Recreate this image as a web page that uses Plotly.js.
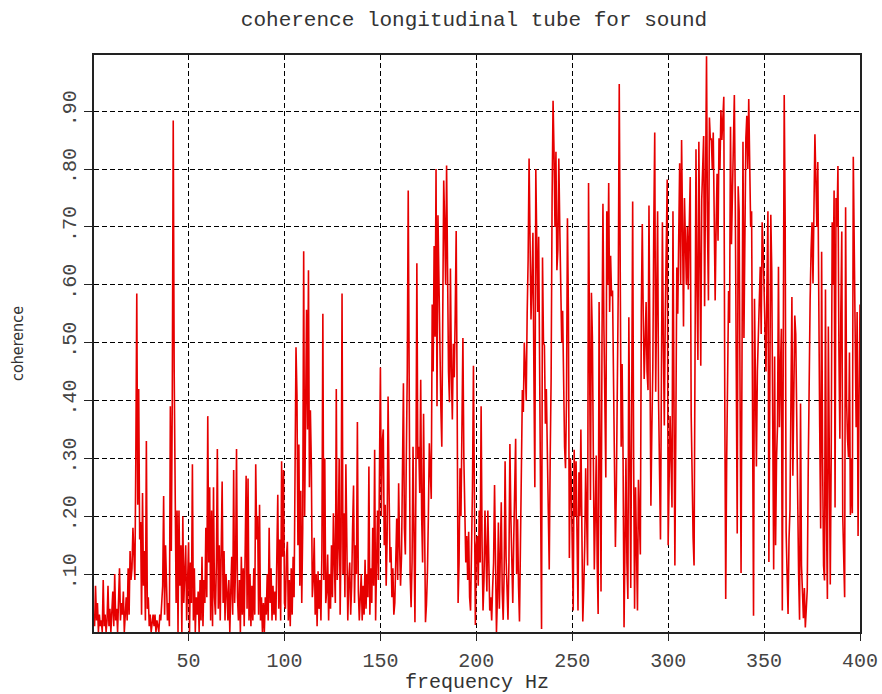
<!DOCTYPE html>
<html>
<head>
<meta charset="utf-8">
<script src="https://cdn.plot.ly/plotly-3.0.1.min.js"></script>
<style>
html,body{margin:0;padding:0;background:#fff;}
#chart{width:882px;height:694px;}
</style>
</head>
<body>
<div id="chart"></div>
<script>
// Frequency sampling of the coherence estimate (Hz)
const FREQ_START = 0.5;
const FREQ_STEP = 0.5;

// Coherence values, one row per 10 Hz (20 samples per row)
const coherence = [
  .03,.01,.08,.02,.05,.00,.03,.01,.02,.00,.09,.01,.03,.00,.02,.08,.01,.04,.00,.03,
  .07,.01,.10,.02,.04,.00,.06,.11,.02,.05,.03,.07,.00,.04,.06,.02,.11,.03,.14,.09,
  .11,.18,.14,.09,.30,.585,.22,.42,.16,.19,.03,.24,.08,.14,.02,.33,.04,.06,.01,.03,
  .00,.02,.03,.01,.03,.00,.02,.01,.00,.03,.02,.05,.08,.235,.03,.15,.10,.02,.05,.01,
  .39,.14,.40,.884,.45,.28,.05,.21,.00,.21,.08,.15,.00,.20,.05,.10,.15,.02,.12,.155,
  .00,.12,.05,.29,.02,.11,.00,.06,.03,.07,.00,.09,.02,.13,.01,.09,.05,.18,.06,.373,
  .12,.25,.02,.21,.01,.25,.06,.03,.12,.316,.04,.15,.02,.11,.26,.05,.14,.02,.10,.07,
  .02,.09,.00,.07,.13,.03,.28,.05,.11,.316,.06,.02,.09,.00,.13,.03,.11,.01,.13,.27,
  .04,.265,.02,.10,.01,.08,.02,.11,.03,.29,.16,.20,.03,.22,.02,.06,.00,.05,.00,.06,
  .03,.10,.02,.18,.05,.11,.02,.08,.03,.07,.02,.19,.237,.04,.16,.02,.295,.13,.28,.05,
  .04,.13,.156,.02,.09,.01,.11,.03,.13,.06,.28,.492,.41,.15,.324,.08,.244,.05,.18,.658,
  .20,.437,.557,.35,.625,.25,.383,.29,.06,.09,.163,.03,.10,.01,.105,.04,.09,.02,.14,.55,
  .09,.30,.05,.07,.134,.02,.10,.04,.15,.06,.205,.12,.05,.42,.09,.15,.30,.03,.16,.585,
  .10,.205,.06,.29,.14,.02,.09,.12,.03,.08,.18,.253,.05,.15,.10,.363,.07,.02,.06,.10,
  .02,.08,.03,.125,.04,.10,.06,.286,.03,.11,.05,.18,.08,.315,.02,.14,.21,.09,.30,.457,
  .20,.33,.35,.15,.22,.08,.16,.407,.25,.12,.147,.06,.11,.03,.05,.12,.196,.09,.257,.15,
  .08,.13,.25,.43,.18,.134,.30,.45,.763,.22,.10,.043,.12,.32,.08,.017,.25,.637,.30,.32,
  .24,.436,.20,.12,.377,.15,.017,.047,.10,.20,.326,.28,.23,.566,.45,.667,.51,.80,.39,.72,
  .60,.45,.39,.32,.54,.78,.705,.60,.806,.556,.45,.397,.628,.45,.367,.498,.44,.55,.693,.40,
  .05,.12,.283,.20,.40,.508,.30,.218,.12,.166,.09,.173,.06,.037,.128,.25,.46,.10,.012,.15,
  .166,.08,.21,.12,.39,.15,.037,.09,.21,.14,.07,.21,.11,.037,.06,.02,.076,.12,.254,.09,
  .00,.06,.189,.04,.12,.224,.07,.021,.10,.295,.13,.06,.021,.12,.325,.20,.09,.05,.16,.25,
  .334,.10,.195,.08,.018,.15,.334,.418,.38,.50,.456,.40,.55,.643,.818,.65,.54,.60,.69,.45,
  .25,.80,.60,.553,.683,.50,.20,.005,.647,.50,.495,.36,.42,.32,.25,.108,.30,.44,.75,.918,
  .83,.70,.83,.625,.66,.818,.70,.625,.50,.555,.40,.32,.283,.40,.715,.55,.128,.30,.257,.10,
  .037,.315,.20,.295,.10,.037,.276,.20,.35,.10,.018,.076,.15,.283,.20,.115,.776,.40,.228,.586,
  .51,.30,.108,.20,.305,.12,.031,.57,.25,.07,.50,.74,.528,.40,.267,.727,.60,.776,.553,.65,
  .58,.59,.437,.30,.147,.25,.38,.60,.947,.50,.32,.463,.30,.008,.15,.30,.12,.057,.544,.30,
  .076,.40,.744,.30,.04,.25,.15,.037,.263,.20,.134,.553,.705,.55,.437,.50,.57,.45,.418,.737,
  .40,.218,.35,.457,.70,.863,.415,.55,.727,.40,.208,.16,.45,.708,.50,.357,.55,.653,.782,.15,
  .25,.373,.30,.215,.727,.40,.115,.35,.63,.55,.727,.81,.60,.85,.70,.528,.75,.65,.60,.70,
  .592,.70,.786,.376,.25,.163,.115,.40,.834,.60,.47,.847,.60,.46,.747,.80,.857,.563,.75,.995,
  .70,.573,.889,.85,.853,.80,.863,.718,.573,.70,.792,.676,.853,.80,.902,.85,.879,.925,.41,.057,
  .295,.45,.589,.534,.873,.67,.75,.857,.928,.737,.45,.17,.77,.727,.40,.102,.476,.847,.508,.70,
  .853,.892,.80,.921,.78,.70,.727,.30,.028,.576,.40,.286,.45,.524,.58,.631,.515,.708,.663,.60,
  .505,.45,.60,.727,.121,.50,.721,.624,.30,.108,.476,.15,.30,.357,.631,.354,.45,.524,.037,.50,
  .928,.708,.173,.10,.031,.16,.212,.40,.579,.27,.40,.547,.515,.35,.276,.10,.021,.395,.115,.05,
  .024,.076,.008,.04,.073,.276,.45,.573,.66,.708,.602,.70,.86,.78,.70,.812,.50,.354,.179,.657,
  .30,.115,.089,.592,.20,.057,.528,.20,.082,.308,.708,.60,.763,.215,.75,.70,.805,.489,.334,.55,
  .692,.202,.10,.06,.734,.40,.334,.302,.483,.202,.30,.205,.821,.618,.40,.354,.553,.166,.40,.566
];

const frequency = coherence.map((_, i) => FREQ_START + i * FREQ_STEP);

// Axis ticks
const xTickVals = [50, 100, 150, 200, 250, 300, 350, 400];
const xTickText = ["50", "100", "150", "200", "250", "300", "350", "400"];
const yTickVals = [0.1, 0.2, 0.3, 0.4, 0.5, 0.6, 0.7, 0.8, 0.9];
const yTickText = [".10", ".20", ".30", ".40", ".50", ".60", ".70", ".80", ".90"];

const MONO = "'Liberation Mono', 'Courier New', 'DejaVu Sans Mono', monospace";
const NARROW = "'Liberation Sans Narrow', 'DejaVu Sans Condensed', 'Arial Narrow', 'Liberation Sans', sans-serif";

const trace = {
  type: "scatter",
  mode: "lines",
  x: frequency,
  y: coherence,
  line: { color: "rgb(230,0,0)", width: 1.6 },
  hoverinfo: "x+y"
};

const axisCommon = {
  showline: true,
  linecolor: "#222",
  linewidth: 2,
  mirror: true,
  ticks: "outside",
  tickcolor: "#222",
  tickwidth: 1,
  showgrid: true,
  gridcolor: "#000",
  gridwidth: 1,
  griddash: "5px,3px",
  zeroline: false,
  tickmode: "array",
  tickfont: { family: MONO, size: 20, color: "#444" }
};

const layout = {
  width: 882,
  height: 694,
  margin: { l: 94, r: 22, t: 55, b: 62, pad: 0 },
  paper_bgcolor: "#fff",
  plot_bgcolor: "#fff",
  showlegend: false,
  title: {
    text: "coherence longitudinal tube for sound",
    font: { family: MONO, size: 21, color: "#333" },
    xref: "container", x: 474 / 882, xanchor: "center",
    yref: "container", y: 1 - 19 / 694, yanchor: "middle"
  },
  xaxis: Object.assign({}, axisCommon, {
    range: [0.7, 400],
    tickvals: xTickVals,
    ticktext: xTickText,
    ticklen: 7,
    ticklabelstandoff: 2,
    title: { text: "frequency Hz", font: { family: MONO, size: 20, color: "#333" }, standoff: 2 }
  }),
  yaxis: Object.assign({}, axisCommon, {
    range: [0, 0.997],
    tickvals: yTickVals,
    ticktext: yTickText,
    tickangle: -90,
    ticklen: 8,
    title: { text: "coherence", font: { family: NARROW, size: 16, color: "#333" }, standoff: 31 }
  })
};

Plotly.newPlot("chart", [trace], layout, { displayModeBar: false, staticPlot: true });
</script>
</body>
</html>
